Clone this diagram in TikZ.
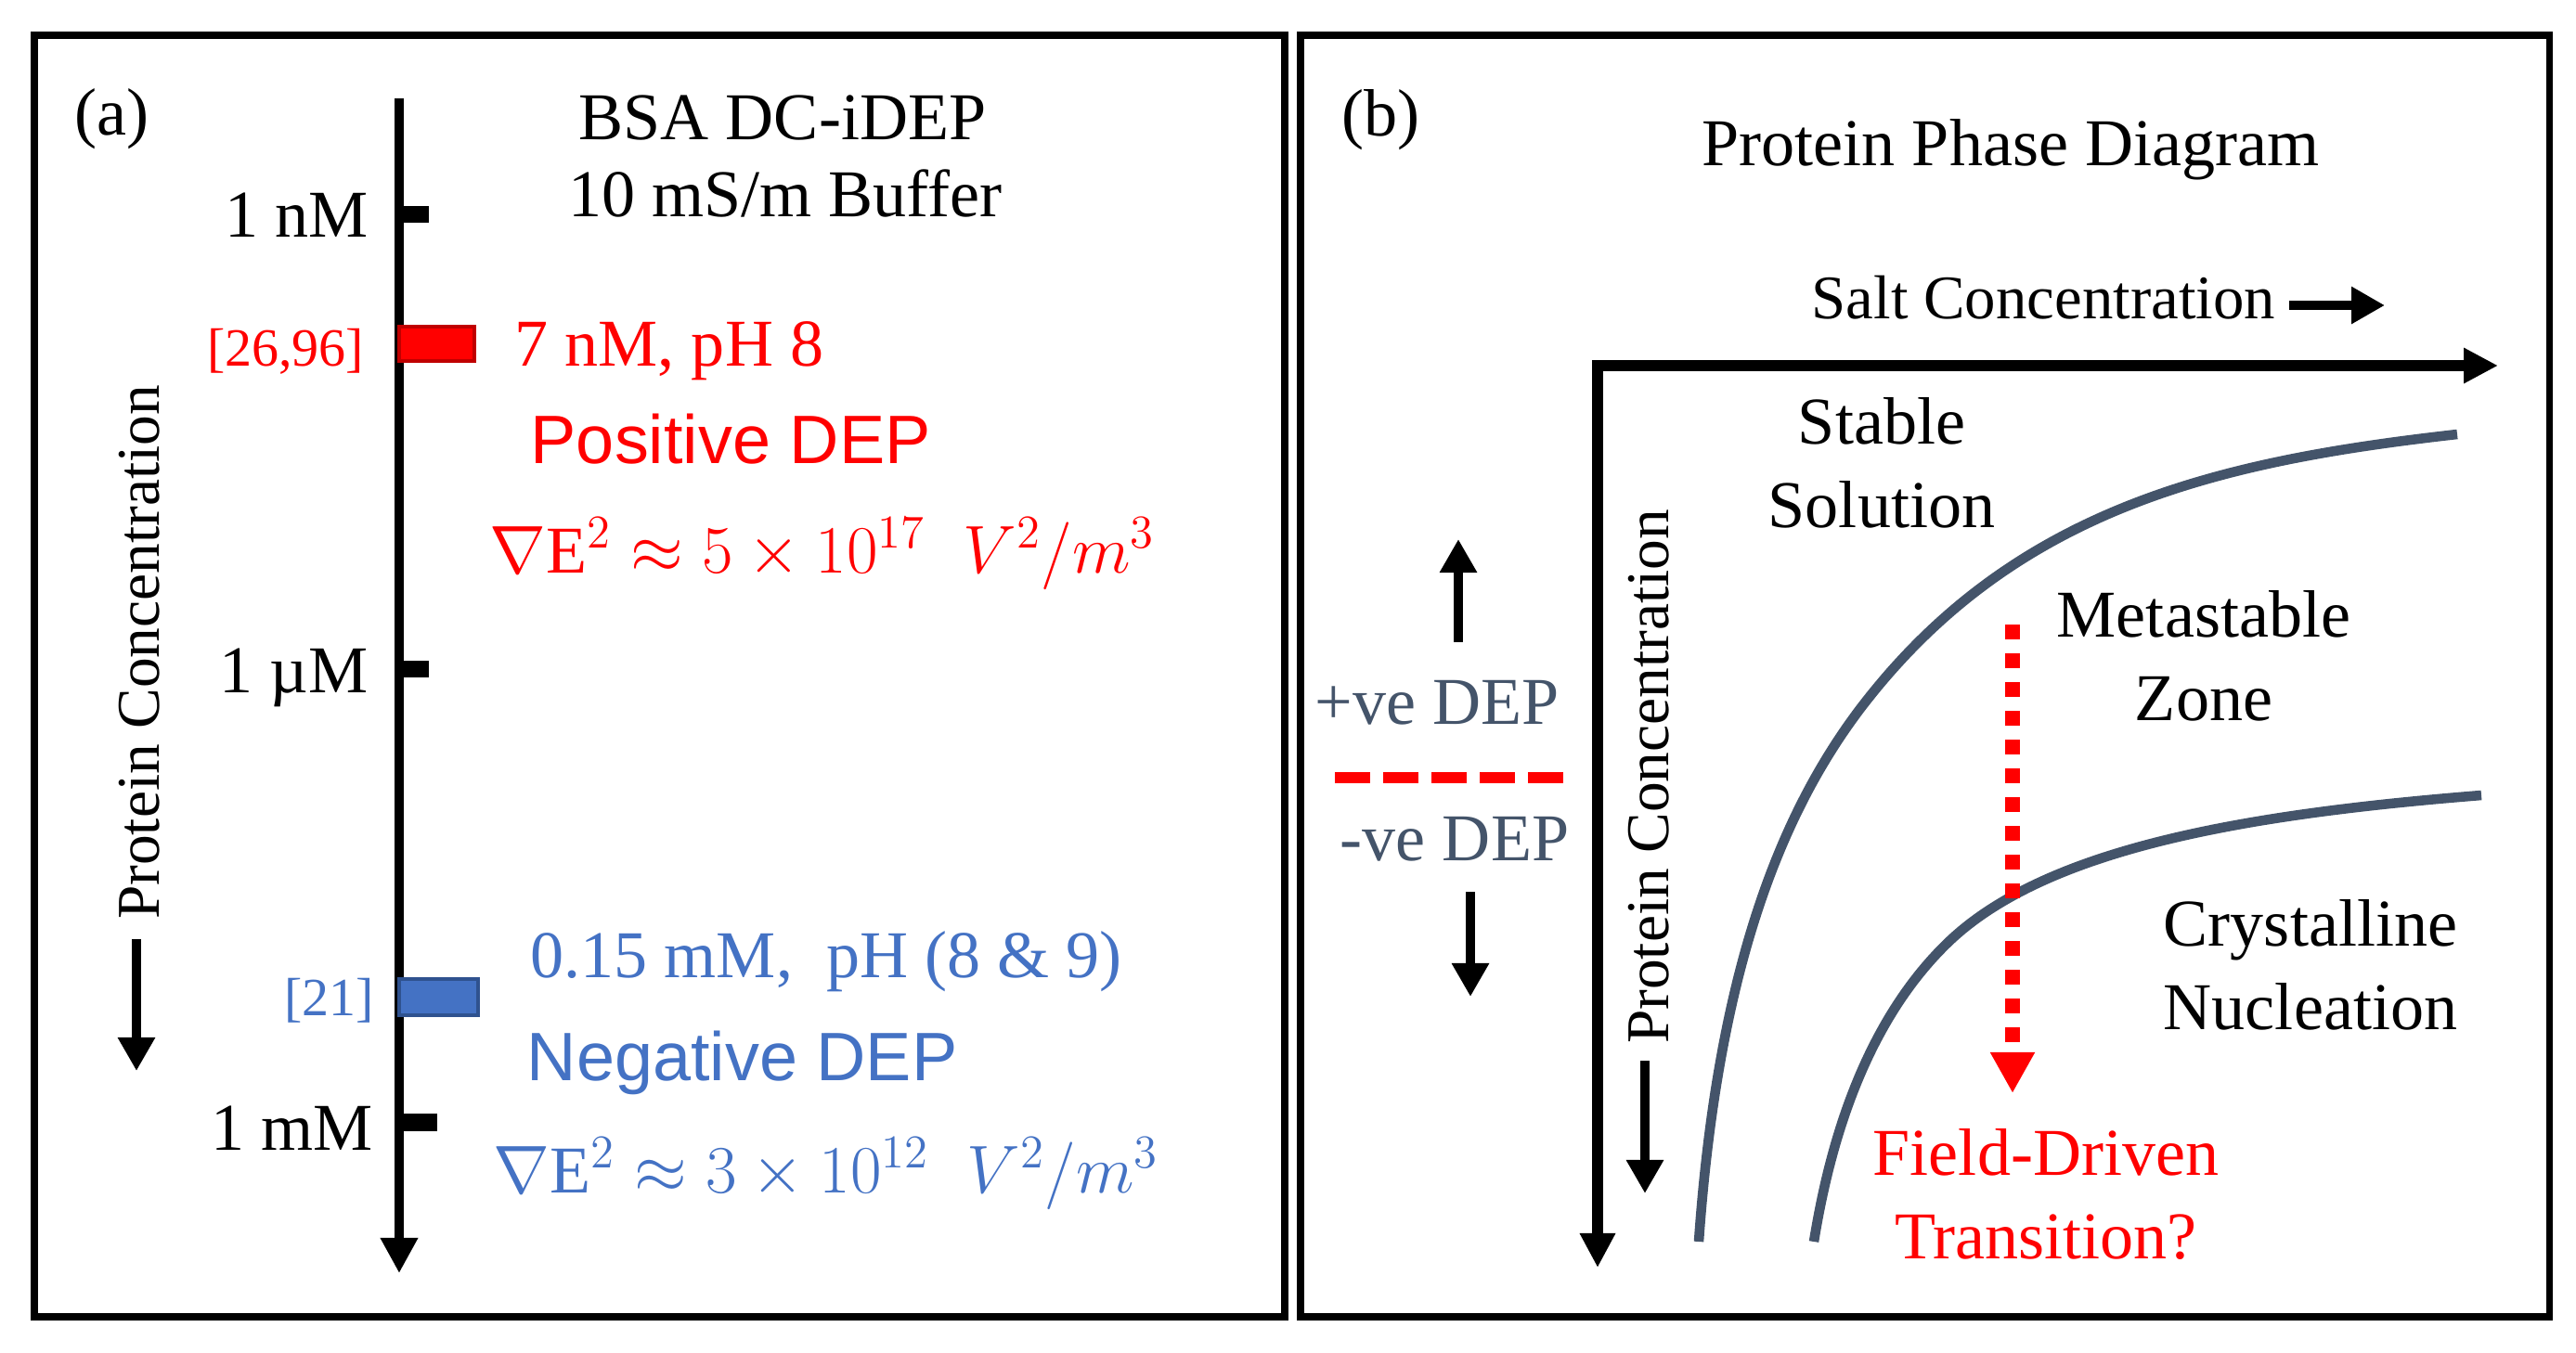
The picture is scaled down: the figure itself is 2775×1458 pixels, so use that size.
\documentclass[tikz,border=0pt]{standalone}
\usepackage{fontspec}
\setmainfont{Liberation Serif}
\newfontfamily\arialfont{Liberation Sans}
\usetikzlibrary{arrows.meta}

\definecolor{posred}{RGB}{255,0,0}
\definecolor{posredline}{RGB}{192,0,0}
\definecolor{negblue}{RGB}{68,114,196}
\definecolor{negblueline}{RGB}{47,82,143}
\definecolor{slate}{RGB}{68,84,106}

\tikzset{
  frame/.style={line width=2pt},
  txt/.style={inner sep=0pt, font=\fontsize{20.5pt}{25.6pt}\selectfont},
  sanstxt/.style={inner sep=0pt, font=\arialfont\fontsize{21pt}{25pt}\selectfont},
  reftxt/.style={inner sep=0pt, font=\fontsize{16.5pt}{20pt}\selectfont},
  rottxt/.style={inner sep=0pt, rotate=90, font=\fontsize{18.6pt}{22pt}\selectfont},
  axis/.style={line width=3.1pt, -{Triangle[width=0.38cm,length=0.38cm]}},
  bigaxis/.style={line width=3.4pt, -{Triangle[width=0.36cm,length=0.37cm]}},
  dirarrow/.style={line width=2.85pt, -{Triangle[width=0.38cm,length=0.36cm]}},
  phase/.style={slate, line width=3pt},
}

\newcommand{\gradfield}[2]{$\nabla\mathrm{E}^2\approx#1\times10^{#2}\;\;V^2/m^3$}

\begin{document}
\begin{tikzpicture}[x=0.01cm, y=-0.01cm]
  \useasboundingbox (0,0) rectangle (2775,1458);

  % panel frames
  \draw[frame] (37,38) rectangle (1384,1419);
  \draw[frame] (1401,38) rectangle (2746,1419);

  % ---------------- (a) ----------------
  \node[txt, anchor=base west] (lbla) at (80,146) {(a)};
  \node[txt, anchor=base] (bsa) at (843,151) {BSA DC-iDEP};
  \node[txt, anchor=base] (buffer) at (846,234) {10 mS/m Buffer};

  \coordinate (ctop) at (430,106);
  \coordinate (cbot) at (430,1372);
  \draw[axis] (ctop) -- (cbot);

  % ticks
  \fill (430,222) rectangle (462,240);
  \fill (430,712) rectangle (462,730);
  \fill (430,1200) rectangle (471,1219);
  \node[txt, anchor=base east] (nM) at (397,256) {1 nM};
  \node[txt, anchor=base east] (uM) at (397,746) {1 µM};
  \node[txt, anchor=base east] (mM) at (402,1239) {1 mM};

  % positive DEP
  \filldraw[fill=posred, draw=posredline, line width=1pt] (430,352) rectangle (511,389);
  \node[reftxt, posred, anchor=base east] (refpos) at (393,395) {[26,96]};
  \node[txt, posred, anchor=base west] (poscond) at (554,395) {7 nM, pH 8};
  \node[sanstxt, posred, anchor=base west] (posdep) at (571,500) {Positive DEP};
  \node[txt, posred, anchor=base west] (posgrad) at (527,617) {\gradfield{5}{17}};

  % negative DEP
  \filldraw[fill=negblue, draw=negblueline, line width=1.2pt] (430,1055) rectangle (515,1094);
  \node[reftxt, negblue, anchor=base east] (refneg) at (404,1094) {[21]};
  \node[txt, negblue, anchor=base west] (negcond) at (571,1053) {0.15 mM,\ \ pH (8 \& 9)};
  \node[sanstxt, negblue, anchor=base west] (negdep) at (567,1164) {Negative DEP};
  \node[txt, negblue, anchor=base west] (neggrad) at (531,1285) {\gradfield{3}{12}};

  \node[rottxt] (concA) at (150,703) {Protein Concentration};
  \coordinate (adown1) at (147,1012);
  \coordinate (adown2) at (147,1154);
  \draw[dirarrow] (adown1) -- (adown2);

  % ---------------- (b) ----------------
  \node[txt, anchor=base west] (lblb) at (1445,147) {(b)};
  \node[txt, anchor=base] (title) at (2166,179) {Protein Phase Diagram};
  \node[txt, anchor=base west, font=\fontsize{19pt}{22pt}\selectfont] (salt) at (1951,344) {Salt Concentration};
  \coordinate (salt2) at (2569,329);
  \draw[dirarrow] ([xshift=0.14cm]salt.east |- salt2) -- (salt2);

  \coordinate (origin) at (1721,394);
  \coordinate (xend) at (2691,394);
  \coordinate (yend) at (1721,1366);
  \draw[bigaxis] ([xshift=-1.7pt]origin) -- (xend);
  \draw[bigaxis] (origin) -- (yend);

  \node[rottxt] (concB) at (1776,837) {Protein Concentration};
  \coordinate (bdown1) at (1772,1143);
  \coordinate (bdown2) at (1772,1286);
  \draw[dirarrow] (bdown1) -- (bdown2);

  % DEP sign key
  \node[txt, slate, anchor=base] (posve) at (1548,780) {+ve DEP};
  \node[txt, slate, anchor=base] (negve) at (1567,927) {-ve DEP};
  \coordinate (up1) at (1571,692);
  \coordinate (up2) at (1571,581);
  \draw[dirarrow] (up1) -- (up2);
  \coordinate (dn1) at (1584,961);
  \coordinate (dn2) at (1584,1074);
  \draw[dirarrow] (dn1) -- (dn2);
  \coordinate (sep1) at (1438,838);
  \coordinate (sep2) at (1685,838);
  \draw[posred, line width=3.4pt, dash pattern=on 10.8pt off 4pt] (sep1) -- (sep2);

  % solubility and supersolubility curves
  \draw[phase] (1830,1338) .. controls (1851,1038) and (1922,864) .. (2017,747)
    .. controls (2181,544) and (2399,496) .. (2647,468);
  \draw[phase] (1954,1338) .. controls (1981,1170) and (2039,1074) .. (2096,1018)
    .. controls (2202,913) and (2424,877) .. (2673,857);

  \node[txt, anchor=south, align=center] (stable) at (2027,570) {Stable\\Solution};
  \node[txt, anchor=south, align=center] (meta) at (2374,778) {Metastable\\Zone};
  \node[txt, anchor=south, align=center] (cryst) at (2489,1111) {Crystalline\\Nucleation};
  \node[txt, posred, anchor=south, align=center] (field) at (2204,1358) {Field-Driven\\Transition?};

  % field-driven jump
  \coordinate (jump1) at (2168,673);
  \coordinate (jump2) at (2168,1178);
  \draw[posred, line width=4.3pt, dash pattern=on 4.55pt off 4.27pt,
    -{Triangle[width=0.45cm,length=0.44cm]}] (jump1) -- (jump2);
\end{tikzpicture}
\end{document}
